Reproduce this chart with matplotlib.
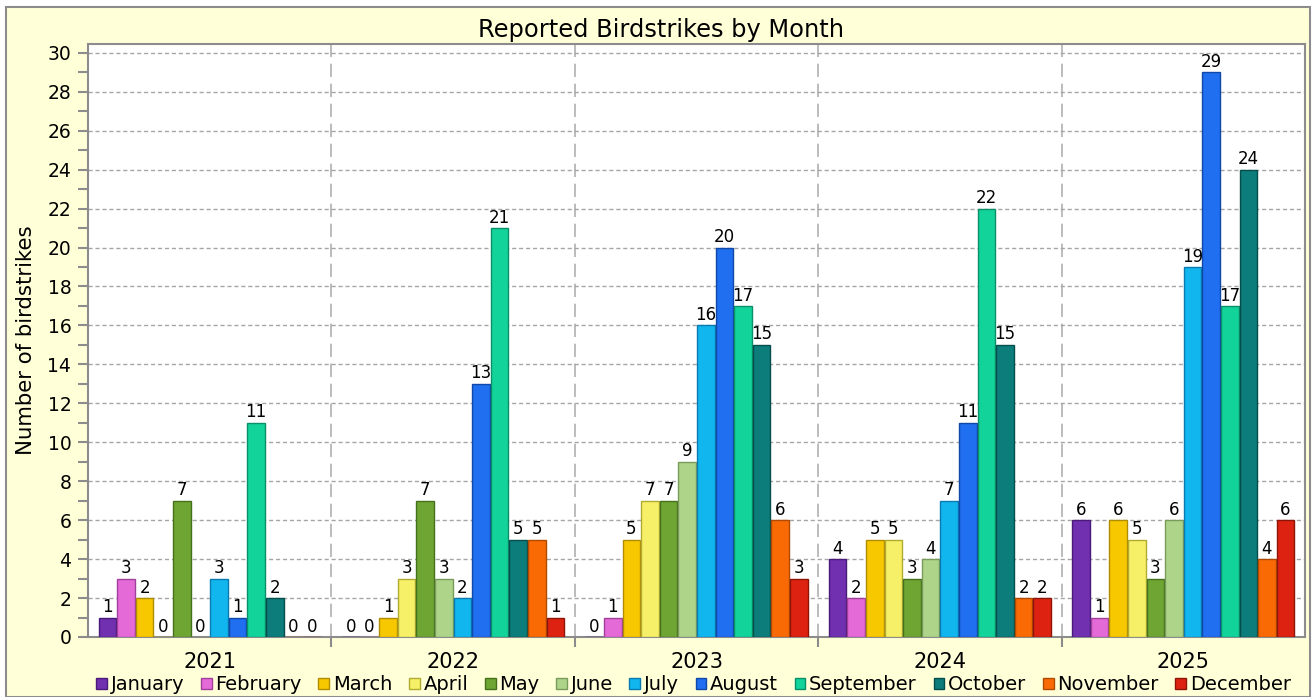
import numpy as np
import matplotlib
matplotlib.use("Agg")
import matplotlib.pyplot as plt
from matplotlib.patches import Rectangle, Patch
from matplotlib.ticker import MultipleLocator

years = ["2021", "2022", "2023", "2024", "2025"]
months = ["January", "February", "March", "April", "May", "June", "July",
          "August", "September", "October", "November", "December"]

# counts per month, one value per year
january = [1, 0, 0, 4, 6]
february = [3, 0, 1, 2, 1]
march = [2, 1, 5, 5, 6]
april = [0, 3, 7, 5, 5]
may = [7, 7, 7, 3, 3]
june = [0, 3, 9, 4, 6]
july = [3, 2, 16, 7, 19]
august = [1, 13, 20, 11, 29]
september = [11, 21, 17, 22, 17]
october = [2, 5, 15, 15, 24]
november = [0, 5, 6, 2, 4]
december = [0, 1, 3, 2, 6]

series = [january, february, march, april, may, june, july, august,
          september, october, november, december]

colors = ["#7030b0", "#e46ad8", "#f7c800", "#f6f068", "#6ea533", "#aed489",
          "#12b6ef", "#1f6ff0", "#12d39a", "#0c7d7b", "#f96a05", "#de2211"]
edges = ["#4a1a7a", "#a0409a", "#b08c00", "#b0aa30", "#45701c", "#7a9a5c",
         "#0a7ab0", "#1048a8", "#0a9068", "#064e4c", "#b04a00", "#8e1408"]

plt.rcParams["font.family"] = ["DejaVu Sans"]

fig = plt.figure(figsize=(13.16, 6.97), dpi=100)
fig.patch.set_facecolor("white")
fig.add_artist(Rectangle((6 / 1316, 0.0), 1304 / 1316, 690 / 697,
                         transform=fig.transFigure, facecolor="#ffffd8",
                         edgecolor="#8c8c8c", linewidth=1.5, zorder=0))

ax = fig.add_axes([88 / 1316, 60 / 697, 1217 / 1316, 593 / 697])
ax.set_facecolor("white")

x = np.arange(len(years))
step = 0.0764
width = 0.072
for j, (vals, c, ec) in enumerate(zip(series, colors, edges)):
    pos = x + (j - 5.5) * step
    bars = ax.bar(pos, vals, width, color=c, edgecolor=ec, linewidth=1,
                  label=months[j], zorder=3)
    ax.bar_label(bars, padding=1, fontsize=12, color="black")

ax.set_xlim(-0.5, len(years) - 0.5)
ax.set_ylim(0, 30.45)
ax.yaxis.set_major_locator(MultipleLocator(2))
ax.yaxis.set_minor_locator(MultipleLocator(1))
ax.set_xticks(x)
ax.set_xticklabels(years, fontsize=15)
ax.set_xticks(x[:-1] + 0.5, minor=True)
ax.tick_params(axis="x", which="major", length=0, pad=11)
ax.tick_params(axis="x", which="minor", length=7, width=1.5, color="#8c8c8c")
ax.tick_params(axis="y", which="both", length=7, width=1.5, color="#8c8c8c",
               labelsize=13.5, pad=5)
ax.grid(axis="y", which="major", color="#a6a6a6", linestyle=(0, (3, 2)),
        linewidth=1, zorder=1)
for b in x[:-1] + 0.5:
    ax.axvline(b, color="#b0b0b0", linestyle=(0, (8, 4)), linewidth=1.2,
               zorder=1)
for s in ax.spines.values():
    s.set_color("#8c8c8c")
    s.set_linewidth(1.5)

fig.suptitle("Reported Birdstrikes by Month", fontsize=17.4, x=0.502,
             y=1 - 30 / 697, va="center")
ax.set_ylabel("Number of birdstrikes", fontsize=15.3)
ax.yaxis.set_label_coords(-0.043, 0.5)

handles = [Patch(facecolor=c, edgecolor=ec) for c, ec in zip(colors, edges)]
fig.legend(handles, months, loc="center", bbox_to_anchor=(0.527, 12 / 697),
           ncol=12, frameon=False, fontsize=14, handlelength=0.55,
           handleheight=0.55, handletextpad=0.2, columnspacing=0.85,
           borderaxespad=0)

fig.savefig("out.png", dpi=100, facecolor=fig.get_facecolor())
